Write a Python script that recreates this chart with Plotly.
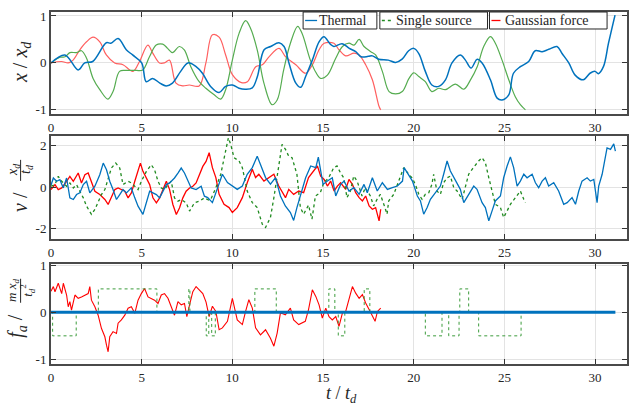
import plotly.graph_objects as go

# ---------------- data ----------------
# Panel 1: position x/x_d
t_pos_thermal = [0, 0.77, 1.5, 1.86, 2.3, 3.05, 3.3, 3.7, 4.15, 4.5, 5.0, 5.25, 5.6, 6.0, 6.35, 6.7, 7.15, 7.55, 8.0, 8.35, 8.8, 9.27, 9.63, 10.0, 10.37, 10.73, 11.1, 11.38, 11.75, 12.11, 12.57, 12.85, 13.12, 13.5, 13.77, 14.04, 14.41, 14.78, 15.05, 15.4, 15.6, 16.05, 16.45, 16.8, 17.1, 17.5, 17.72, 18.07, 18.6, 19.0, 19.36, 19.72, 20.0, 20.28, 20.64, 21.0, 21.38, 21.75, 22.11, 22.57, 22.85, 23.16, 23.5, 23.77, 24.23, 24.6, 24.87, 25.24, 25.5, 25.88, 26.34, 26.7, 27.08, 27.45, 27.9, 28.18, 28.55, 28.9, 29.35, 29.72, 30.0, 30.18, 30.46, 30.74, 31.1]
pos_thermal = [0, 0.17, -0.15, 0, 0.03, 0.43, 0.42, 0.52, 0.28, 0.17, 0, -0.4, -0.33, -0.43, -0.49, -0.43, -0.18, 0, -0.08, -0.22, -0.5, -0.63, -0.5, -0.47, -0.54, -0.56, -0.53, -0.29, 0.28, 0.35, 0.43, 0.35, 0, -0.43, -0.52, -0.29, 0.06, 0.45, 0.56, 0.4, 0.35, 0.41, 0.31, 0.24, 0.13, 0.14, 0.15, 0.08, 0.06, 0.01, 0.08, 0.26, 0.31, 0.2, -0.18, -0.47, -0.5, -0.36, 0, 0.17, 0.06, -0.11, 0.08, 0, -0.36, -0.75, -0.79, -0.68, -0.22, -0.08, 0.03, 0.26, 0.24, 0.29, 0.35, 0.2, 0, -0.26, -0.36, -0.22, -0.18, -0.23, -0.08, 0.42, 1.02]

t_pos_single = [0, 0.5, 0.77, 1.04, 1.41, 1.68, 1.96, 2.32, 2.69, 3.14, 3.42, 3.78, 4.15, 4.7, 5.06, 5.43, 5.8, 6.16, 6.43, 6.7, 7.07, 7.35, 7.71, 8.17, 8.54, 9.0, 9.36, 9.63, 10.0, 10.37, 10.73, 11.0, 11.37, 11.74, 12.19, 12.47, 12.83, 13.2, 13.6, 13.84, 14.3, 14.6, 14.87, 15.24, 15.7, 16.07, 16.43, 16.71, 16.99, 17.26, 17.63, 17.9, 18.27, 18.64, 19.0, 19.37, 19.74, 20.0, 20.28, 20.64, 21.0, 21.38, 21.75, 22.3, 22.76, 23.13, 23.5, 23.86, 24.23, 24.5, 24.87, 25.24, 25.6, 25.88, 26.16]
pos_single = [0, 0.12, 0.13, 0.22, 0.22, 0.26, 0.1, -0.33, -0.57, -0.77, -0.61, -0.18, -0.16, -0.16, -0.15, 0.13, 0.38, 0.4, 0.31, 0.22, 0.35, 0.28, -0.08, -0.4, -0.54, -0.68, -0.77, -0.57, 0.06, 0.63, 0.9, 0.74, 0.28, -0.43, -0.89, -0.79, -0.15, 0.42, 0.78, 0.63, 0.06, -0.2, -0.33, -0.26, 0.1, 0.35, 0.42, 0.38, 0.5, 0.35, 0.24, 0.17, -0.18, -0.61, -0.66, -0.61, -0.33, -0.21, -0.29, -0.4, -0.61, -0.54, -0.57, -0.45, -0.56, -0.36, -0.08, 0.35, 0.56, 0.42, 0.06, -0.36, -0.72, -0.89, -1.0]

t_pos_gauss = [0, 0.58, 0.95, 1.22, 1.59, 1.96, 2.32, 2.69, 3.05, 3.51, 3.97, 4.52, 4.88, 5.34, 5.61, 5.98, 6.25, 6.53, 6.89, 7.26, 7.62, 8.17, 8.54, 8.9, 9.27, 9.63, 10.0, 10.5, 10.83, 11.29, 11.65, 12.02, 12.57, 12.94, 13.5, 14.04, 14.41, 14.78, 15.06, 15.6, 15.88, 16.25, 16.71, 16.99, 17.35, 17.72, 18.09, 18.18]
pos_gauss = [0, 0.03, 0, 0.06, 0.28, 0.45, 0.55, 0.45, 0.17, 0, -0.04, -0.18, 0.03, 0.38, 0.21, 0, 0, 0.06, -0.43, -0.49, -0.47, -0.49, 0, 0.6, 0.55, 0.17, -0.25, -0.42, -0.4, -0.08, -0.04, 0.13, 0.31, 0.13, -0.04, -0.22, -0.04, 0.28, 0.42, 0.42, 0.28, 0.15, 0.21, 0.17, -0.04, -0.36, -0.93, -1.0]

# Panel 2: velocity
t_vel_thermal = [0, 0.13, 0.31, 0.49, 0.68, 0.86, 1.04, 1.23, 1.41, 1.59, 1.78, 1.96, 2.14, 2.42, 2.69, 2.88, 3.06, 3.24, 3.42, 3.61, 3.79, 3.97, 4.16, 4.43, 4.62, 4.8, 5.07, 5.26, 5.44, 5.62, 5.81, 5.99, 6.17, 6.36, 6.54, 6.81, 7.0, 7.18, 7.36, 7.55, 7.73, 8.0, 8.28, 8.46, 8.64, 8.9, 9.27, 9.45, 9.73, 10.0, 10.27, 10.55, 10.82, 11.1, 11.37, 11.55, 11.83, 12.1, 12.38, 12.65, 12.92, 13.2, 13.38, 13.56, 13.84, 14.04, 14.32, 14.6, 14.74, 14.87, 15.0, 15.24, 15.51, 15.7, 15.97, 16.16, 16.43, 16.7, 16.99, 17.26, 17.44, 17.72, 17.99, 18.27, 18.55, 18.82, 19.1, 19.38, 19.47, 19.65, 19.93, 20.2, 20.37, 20.55, 20.74, 20.92, 21.2, 21.47, 21.65, 21.84, 22.02, 22.3, 22.57, 22.76, 23.03, 23.31, 23.49, 23.77, 23.95, 24.14, 24.32, 24.5, 24.78, 24.96, 25.15, 25.33, 25.51, 25.7, 25.88, 26.07, 26.25, 26.53, 26.71, 26.89, 27.08, 27.26, 27.44, 27.72, 27.99, 28.27, 28.46, 28.73, 28.92, 29.1, 29.28, 29.56, 29.74, 29.93, 30.11, 30.2, 30.39, 30.57, 30.66, 30.85, 31.03, 31.12]
vel_thermal = [0.1, 0.45, 0.29, 0.37, -0.03, 0.45, -0.51, -0.59, -0.35, -0.27, 0.13, 0.29, -0.27, 0.05, 0.61, 1.17, 0.85, 0.29, -0.11, -0.59, -0.35, -0.11, -0.27, -0.03, -0.51, -0.91, -1.31, -0.75, -0.19, -0.27, -0.35, -0.51, -0.19, 0.13, 0.21, 0.45, 0.69, 0.93, 0.69, 0.29, -0.03, -0.11, 0.05, -0.43, -0.5, -0.74, 0.23, 0.63, 0.23, 0.06, -0.1, 0.06, 0.63, 0.95, 1.5, 1.1, 0.47, 0.15, 0.47, -0.42, -0.9, -1.22, -1.6, -0.98, -0.1, 0.46, 1.03, 0.95, 1.46, 0.79, 0.14, 0.3, 0.46, -0.42, 0.14, 0.3, -0.18, -0.02, -0.34, 0.14, -0.26, 0.46, -0.18, 0.22, -0.1, -0.02, 0.06, 0.3, 0.95, 0.7, 0.3, -0.42, -0.66, -1.3, -0.98, -0.58, -0.26, 0.06, 0.63, 1.27, 0.79, 0.3, -0.1, -0.74, -0.34, 0.06, -0.1, -0.74, -0.98, -1.62, -1.14, -0.66, -0.42, 0.46, 1.03, 1.47, 0.95, 0.06, 0.3, 0.63, 0.46, 0.63, 0.22, -0.02, 0.3, 0.46, 0.06, 0.22, -0.18, -0.82, -0.74, -0.5, -0.82, -0.18, 0.3, 0.46, 0.3, 0.38, -0.74, 0.06, 0.63, 1.43, 1.9, 1.83, 2.1, 1.75]

t_vel_single = [0, 0.22, 0.4, 0.59, 0.86, 1.04, 1.23, 1.41, 1.59, 1.78, 1.96, 2.23, 2.42, 2.6, 2.78, 2.97, 3.15, 3.33, 3.57, 3.79, 3.97, 4.25, 4.43, 4.62, 4.8, 4.98, 5.26, 5.53, 5.71, 5.9, 6.08, 6.26, 6.45, 6.63, 6.81, 7.0, 7.18, 7.45, 7.64, 7.91, 8.19, 8.46, 8.7, 8.81, 9.09, 9.36, 9.63, 9.78, 9.91, 10.09, 10.37, 10.55, 10.82, 11.1, 11.37, 11.65, 11.83, 12.1, 12.29, 12.56, 12.74, 12.93, 13.11, 13.29, 13.56, 13.75, 13.93, 14.2, 14.39, 14.58, 14.85, 15.04, 15.31, 15.59, 15.77, 15.96, 16.14, 16.32, 16.51, 16.69, 16.88, 17.15, 17.33, 17.61, 17.79, 17.98, 18.16, 18.35, 18.53, 18.62, 18.9, 19.17, 19.45, 19.72, 19.91, 20.09, 20.28, 20.46, 20.64, 20.83, 21.0, 21.1, 21.28, 21.47, 21.65, 21.84, 22.02, 22.21, 22.39, 22.67, 22.85, 23.03, 23.22, 23.4, 23.58, 23.77, 23.95, 24.14, 24.32, 24.5, 24.78, 24.96, 25.15, 25.33, 25.61, 25.88, 26.07, 26.16]
vel_single = [0.05, 0.13, 0.53, 0.29, 0.05, 0.21, -0.03, 0.13, -0.19, -0.51, -0.91, -1.31, -1.07, -0.67, -0.35, -0.11, 0.45, 0.93, 1.17, 0.93, 0.13, 0.29, 0.21, 0.05, -0.11, 0.29, 0.77, 1.09, 0.85, 0.29, -0.03, -0.11, 0.13, 0.29, -0.51, -0.67, -0.59, -0.75, -1.15, -0.75, -0.67, -0.51, -0.62, -0.58, -0.02, 0.63, 1.83, 2.39, 2.07, 1.43, 1.27, 0.95, -0.18, -0.74, -0.98, -1.78, -1.94, -1.46, -0.5, 1.1, 2.07, 1.83, 1.5, 1.43, 0.63, -0.98, -1.3, -0.86, -1.54, -0.42, -0.26, 0.22, 0.46, 0.95, 1.03, 0.7, 0.46, -0.5, -0.18, 0.54, 0.3, -0.42, -0.02, -0.42, -0.9, -0.58, -0.34, -0.82, -1.3, -0.66, -0.34, 0.3, 0.95, 0.63, 0.46, 0.14, -0.34, -0.58, -0.34, -0.26, 0.14, 0.63, -0.18, -0.34, 0.22, 0.46, 0.54, -0.02, -0.18, -0.58, 0.06, 0.63, 0.87, 1.1, 1.27, 1.43, 1.19, 0.46, -0.18, -0.82, -0.98, -1.46, -1.14, -0.82, -0.5, -0.18, -0.58, -0.74]

t_vel_gauss = [0, 0.22, 0.4, 0.59, 0.86, 1.04, 1.23, 1.5, 1.68, 1.87, 2.05, 2.23, 2.42, 2.69, 2.97, 3.15, 3.33, 3.52, 3.7, 3.88, 4.07, 4.25, 4.43, 4.62, 4.8, 4.93, 5.07, 5.26, 5.44, 5.62, 5.81, 5.99, 6.17, 6.36, 6.54, 6.72, 6.91, 7.09, 7.27, 7.45, 7.64, 7.82, 8.0, 8.19, 8.37, 8.55, 8.72, 8.9, 9.09, 9.27, 9.54, 9.82, 10.0, 10.27, 10.55, 10.82, 11.1, 11.28, 11.46, 11.74, 12.01, 12.29, 12.56, 12.74, 12.93, 13.11, 13.38, 13.66, 13.93, 14.2, 14.48, 14.69, 14.87, 15.06, 15.24, 15.42, 15.61, 15.79, 15.97, 16.25, 16.43, 16.62, 16.8, 16.99, 17.17, 17.35, 17.54, 17.72, 17.9, 18.09, 18.18]
vel_gauss = [-0.11, 0.13, -0.11, -0.03, 0.29, 0.53, 0.29, 0.69, 0.21, 0.61, 0.69, 0.21, -0.19, -0.35, -0.59, -0.83, -0.51, -0.11, -0.03, -0.11, -0.19, -0.51, -0.27, 0.29, 0.77, 1.17, 0.77, 0.45, 0.13, -0.51, -0.75, -0.51, -0.11, 0.29, -0.11, -0.83, -1.31, -0.99, -0.51, -0.19, -0.03, 0.05, 0.21, 0.61, 1.01, 1.25, 1.67, 0.95, 0.47, -0.34, -0.82, -0.98, -1.22, -0.98, -0.5, 0.22, 0.87, 0.47, 0.63, 0.3, 0.47, 0.63, 0.06, -0.18, -0.5, -0.1, -0.34, -0.18, -0.26, 0.47, 0.79, 1.03, 0.54, 0.38, 0.06, 0.3, -0.18, 0.06, 0.22, -0.1, 0.38, 0.14, -0.26, -0.5, -0.66, -0.42, -0.9, -1.06, -0.98, -1.62, -1.06]

# Panel 3: active force
t_force_thermal = [0, 31.12]
force_thermal = [0, 0]

t_force_single = [0, 0.09, 1.39, 2.61, 5.84, 7.6, 7.66, 8.56, 8.7, 8.86, 9.06, 11.24, 12.42, 15.32, 15.65, 15.84, 16.2, 17.27, 17.58, 20.64, 21.56, 21.93, 22.5, 22.54, 23.03, 23.58, 25.92, 26.16]
force_single = [0, -0.5, 0, 0.5, 0, 0.5, 0, -0.5, 0, -0.5, 0, 0.5, 0, 0.5, 0, -0.5, 0, 0.5, 0, -0.5, 0, -0.5, 0, 0.5, 0, -0.5, 0, 0]

t_force_gauss = [0, 0.13, 0.22, 0.4, 0.59, 0.68, 0.86, 0.95, 1.04, 1.13, 1.32, 1.5, 1.68, 1.87, 2.05, 2.14, 2.23, 2.42, 2.6, 2.78, 2.97, 3.06, 3.15, 3.24, 3.42, 3.61, 3.7, 3.88, 4.07, 4.25, 4.43, 4.62, 4.8, 4.98, 5.16, 5.35, 5.53, 5.71, 5.9, 6.08, 6.26, 6.45, 6.63, 6.81, 7.0, 7.18, 7.36, 7.49, 7.64, 7.82, 8.0, 8.19, 8.37, 8.55, 8.72, 8.9, 9.09, 9.27, 9.45, 9.73, 10.0, 10.27, 10.55, 10.73, 10.91, 11.1, 11.28, 11.55, 11.83, 12.1, 12.29, 12.47, 12.65, 12.92, 13.2, 13.38, 13.66, 14.02, 14.2, 14.41, 14.6, 14.78, 14.96, 15.15, 15.33, 15.51, 15.7, 15.88, 16.07, 16.25, 16.43, 16.62, 16.8, 16.99, 17.17, 17.35, 17.54, 17.72, 17.87, 18.0, 18.18]
force_gauss = [0.45, 0.55, 0.44, 0.62, 0.4, 0.62, 0.37, 0.12, 0.23, 0.05, 0.37, 0.3, 0.33, 0.37, 0.4, 0.55, 0.26, 0.12, -0.06, -0.34, -0.52, -0.7, -0.84, -0.52, -0.41, -0.45, -0.23, -0.16, -0.06, 0.09, 0.12, -0.02, 0.26, 0.4, 0.51, 0.33, 0.3, 0.26, 0.19, 0.37, 0.4, 0.3, 0.12, -0.06, 0.23, 0.16, 0.19, -0.09, 0.16, 0.44, 0.55, 0.48, 0.4, 0.22, -0.09, 0.13, 0.02, -0.37, -0.33, -0.19, 0.3, -0.16, -0.26, 0.02, 0.27, 0.09, -0.33, -0.48, -0.37, -0.55, -0.72, -0.44, -0.01, -0.05, 0.09, -0.16, -0.26, -0.19, 0.06, 0.48, 0.34, 0.16, -0.12, 0.09, -0.09, -0.16, -0.09, -0.3, -0.01, 0.02, 0.27, 0.55, 0.41, 0.3, 0.38, 0.2, 0.06, -0.09, -0.19, 0.02, 0.09]

series_names = ["Thermal", "Single source", "Gaussian force"]
x_ticks = [0, 5, 10, 15, 20, 25, 30]
y1_ticks, y1_labels = [-1, 0, 1], ["-1", "0", "1"]
y2_ticks, y2_labels = [-2, 0, 2], ["-2", "0", "2"]
y3_ticks, y3_labels = [-1, 0, 1], ["-1", "0", "1"]

# ---------------- styling ----------------
BLUE = "#0072BD"
GREEN1, RED1 = "rgb(85,172,80)", "rgb(255,95,95)"
GREEN2, RED2 = "#1F8A1F", "#FF0000"
GREEN3 = "#3C9C3C"
FONT = "Liberation Serif, Times New Roman, DejaVu Serif, serif"
TXT = "#262626"

fig = go.Figure()

def add(x, y, color, width, row, name, dash="solid", shape="linear"):
    xa = "x" if row == 1 else f"x{row}"
    ya = "y" if row == 1 else f"y{row}"
    fig.add_trace(go.Scatter(x=x, y=y, mode="lines", xaxis=xa, yaxis=ya, name=name,
                             line=dict(color=color, width=width, dash=dash, shape=shape),
                             showlegend=False, hoverinfo="skip"))

# panel 1
add(t_pos_gauss, pos_gauss, RED1, 1.2, 1, series_names[2], shape="spline")
add(t_pos_single, pos_single, GREEN1, 1.2, 1, series_names[1], shape="spline")
add(t_pos_thermal, pos_thermal, BLUE, 1.5, 1, series_names[0], shape="spline")
# panel 2
add(t_vel_gauss, vel_gauss, RED2, 1.3, 2, series_names[2])
add(t_vel_single, vel_single, GREEN2, 1.3, 2, series_names[1], dash="dot")
add(t_vel_thermal, vel_thermal, BLUE, 1.3, 2, series_names[0])
# panel 3
add(t_force_gauss, force_gauss, RED2, 1.1, 3, series_names[2])
add(t_force_single, force_single, GREEN3, 1.0, 3, series_names[1], dash="dot", shape="hv")
add(t_force_thermal, force_thermal, BLUE, 3, 3, series_names[0])

axis_common = dict(showgrid=True, gridcolor="#E3E3E3", gridwidth=1, zeroline=False,
                   showline=True, linecolor="#4A4A4A", linewidth=2, mirror="ticks",
                   ticks="inside", ticklen=5, tickwidth=1, tickcolor="#333333",
                   tickfont=dict(family=FONT, size=13, color=TXT))

XR = [0, 31.76]
lay = dict(width=632, height=408, margin=dict(l=51, r=3, t=12, b=44),
           paper_bgcolor="white", plot_bgcolor="white", showlegend=False,
           font=dict(family=FONT, color=TXT))
doms = {1: [0.710, 1.0], 2: [0.355, 0.649], 3: [0.0, 0.284]}
yr = {1: [-1.09, 1.085], 2: [-2.5, 2.5], 3: [-1.1, 1.03]}
yt = {1: (y1_ticks, y1_labels), 2: (y2_ticks, y2_labels), 3: (y3_ticks, y3_labels)}
for r in (1, 2, 3):
    xk = "xaxis" if r == 1 else f"xaxis{r}"
    yk = "yaxis" if r == 1 else f"yaxis{r}"
    lay[xk] = dict(axis_common, range=XR, tickvals=x_ticks, anchor="y" if r == 1 else f"y{r}")
    lay[yk] = dict(axis_common, range=yr[r], domain=doms[r], tickvals=yt[r][0],
                   ticktext=yt[r][1], anchor="x" if r == 1 else f"x{r}")

def px_x(p):
    return (p - 51) / 578.0

def px_y(p):
    return (364.3 - p) / 352.3

def ann(text, x, y, size, angle=0, xanchor="center", yanchor="middle"):
    return dict(text=text, x=px_x(x), y=px_y(y), xref="paper", yref="paper",
                xanchor=xanchor, yanchor=yanchor, textangle=angle, showarrow=False,
                font=dict(family=FONT, size=size, color=TXT))

annotations = [
    # y titles
    ann("<i>x</i> / <i>x<sub>d</sub></i>", 22, 62, 20, -90),
    ann("<i>v</i> /", 20, 202, 20, -90),
    ann("<i>x<sub>d</sub></i>", 14, 170, 14, -90),
    ann("<i>t<sub>d</sub></i>", 27, 170, 14, -90),
    ann("<i>f<sub>a</sub></i> /", 17, 326, 20, -90),
    ann("<i>m x<sub>d</sub></i>", 13, 291, 13, -90),
    ann("<i>t</i><sub><i>d</i></sub><sup>2</sup>", 27, 291, 13, -90),
    # x title
    ann("<i>t</i> / <i>t<sub>d</sub></i>", 343, 408, 18, 0, "center", "bottom"),
]
shapes = [
    dict(type="line", xref="paper", yref="paper", x0=px_x(20.5), x1=px_x(20.5),
         y0=px_y(160), y1=px_y(181), line=dict(color=TXT, width=1)),
    dict(type="line", xref="paper", yref="paper", x0=px_x(20.5), x1=px_x(20.5),
         y0=px_y(279), y1=px_y(303), line=dict(color=TXT, width=1)),
]

# boxed legend entries
legend_boxes = [(304, 378, BLUE, "solid"), (381, 489, GREEN2, "dot"), (491, 609, RED2, "dash")]
for name, (bx0, bx1, col, dsh) in zip(series_names, legend_boxes):
    shapes.append(dict(type="rect", xref="paper", yref="paper", x0=px_x(bx0), x1=px_x(bx1),
                       y0=px_y(29), y1=px_y(12), line=dict(color="#262626", width=1),
                       fillcolor="white", layer="above"))
    shapes.append(dict(type="line", xref="paper", yref="paper", x0=px_x(bx0 + 2), x1=px_x(bx0 + 14),
                       y0=px_y(20.5), y1=px_y(20.5), line=dict(color=col, width=1.3, dash=dsh),
                       layer="above"))
    annotations.append(ann(name, bx0 + 14, 20.5, 14, 0, "left"))

lay["annotations"] = annotations
lay["shapes"] = shapes

fig.update_layout(**lay)
fig.write_html("out.html", config={"displayModeBar": False},
               post_script="document.body.style.margin='0';")
